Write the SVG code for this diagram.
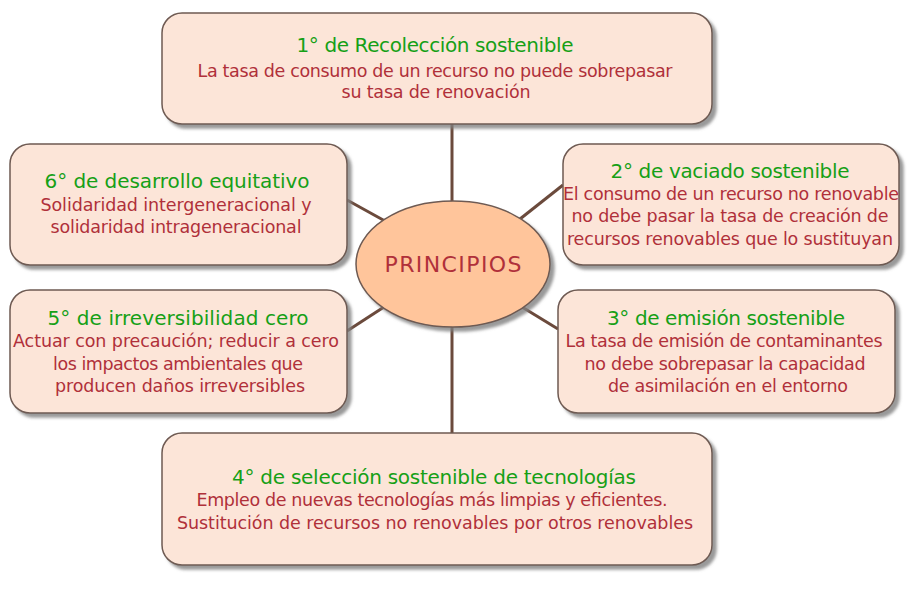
<svg xmlns="http://www.w3.org/2000/svg" width="913" height="592" viewBox="0 0 913 592">
<defs>
<filter id="sh" x="-5%" y="-5%" width="115%" height="120%">
<feDropShadow dx="4" dy="4" stdDeviation="1.5" flood-color="#808080" flood-opacity="0.8"/>
</filter>
<style>
.box{fill:#fce5d8;stroke:#6e5a52;stroke-width:1.5;filter:url(#sh)}
.ell{fill:#ffc59b;stroke:#6e5a52;stroke-width:1.5;filter:url(#sh)}
.conn{stroke:#6b4a3c;stroke-width:3;fill:none}
text{font-family:"DejaVu Sans","Liberation Sans",sans-serif;text-anchor:middle}
.t{fill:#16a016;font-size:20px}
.b{fill:#b0303a;font-size:17.5px}
.c{fill:#b0303a;font-size:22px}
</style>
</defs>
<rect width="913" height="592" fill="#ffffff"/>
<g id="connectors">
<line class="conn" x1="452" y1="124" x2="452" y2="202"/>
<line class="conn" x1="452" y1="326" x2="452" y2="433"/>
<line class="conn" x1="347" y1="200" x2="385" y2="221"/>
<line class="conn" x1="520" y1="219" x2="563" y2="185"/>
<line class="conn" x1="347" y1="331" x2="384" y2="307"/>
<line class="conn" x1="522" y1="307" x2="558" y2="329"/>
</g>
<g id="center">
<ellipse class="ell" cx="453" cy="264" rx="97" ry="63"/>
<text class="c" x="453" y="272" textLength="137">PRINCIPIOS</text>
</g>
<g id="n1">
<rect class="box" x="162" y="13" width="550" height="111" rx="20"/>
<text class="t" x="435" y="52" textLength="277">1° de Recolección sostenible</text>
<text class="b" x="435" y="77" textLength="475">La tasa de consumo de un recurso no puede sobrepasar</text>
<text class="b" x="436" y="98" textLength="189">su tasa de renovación</text>
</g>
<g id="n2">
<rect class="box" x="563" y="144" width="336" height="121" rx="20"/>
<text class="t" x="730" y="178" textLength="239">2° de vaciado sostenible</text>
<text class="b" x="731" y="200" textLength="336">El consumo de un recurso no renovable</text>
<text class="b" x="730" y="222" textLength="317">no debe pasar la tasa de creación de</text>
<text class="b" x="730" y="245" textLength="326">recursos renovables que lo sustituyan</text>
</g>
<g id="n6">
<rect class="box" x="10" y="144" width="337" height="121" rx="20"/>
<text class="t" x="177" y="188" textLength="265">6° de desarrollo equitativo</text>
<text class="b" x="176" y="211" textLength="271">Solidaridad intergeneracional y</text>
<text class="b" x="176" y="233" textLength="251">solidaridad intrageneracional</text>
</g>
<g id="n5">
<rect class="box" x="10" y="290" width="337" height="123" rx="20"/>
<text class="t" x="178" y="325" textLength="261">5° de irreversibilidad cero</text>
<text class="b" x="176" y="347" textLength="326">Actuar con precaución; reducir a cero</text>
<text class="b" x="178" y="370" textLength="250">los impactos ambientales que</text>
<text class="b" x="180" y="392" textLength="250">producen daños irreversibles</text>
</g>
<g id="n3">
<rect class="box" x="558" y="290" width="337" height="123" rx="20"/>
<text class="t" x="726" y="325" textLength="238">3° de emisión sostenible</text>
<text class="b" x="724" y="347" textLength="317">La tasa de emisión de contaminantes</text>
<text class="b" x="725" y="370" textLength="281">no debe sobrepasar la capacidad</text>
<text class="b" x="728" y="392" textLength="240">de asimilación en el entorno</text>
</g>
<g id="n4">
<rect class="box" x="162" y="433" width="550" height="132" rx="20"/>
<text class="t" x="434" y="484" textLength="404">4° de selección sostenible de tecnologías</text>
<text class="b" x="432" y="506" textLength="471">Empleo de nuevas tecnologías más limpias y eficientes.</text>
<text class="b" x="435" y="529" textLength="516">Sustitución de recursos no renovables por otros renovables</text>
</g>
</svg>
